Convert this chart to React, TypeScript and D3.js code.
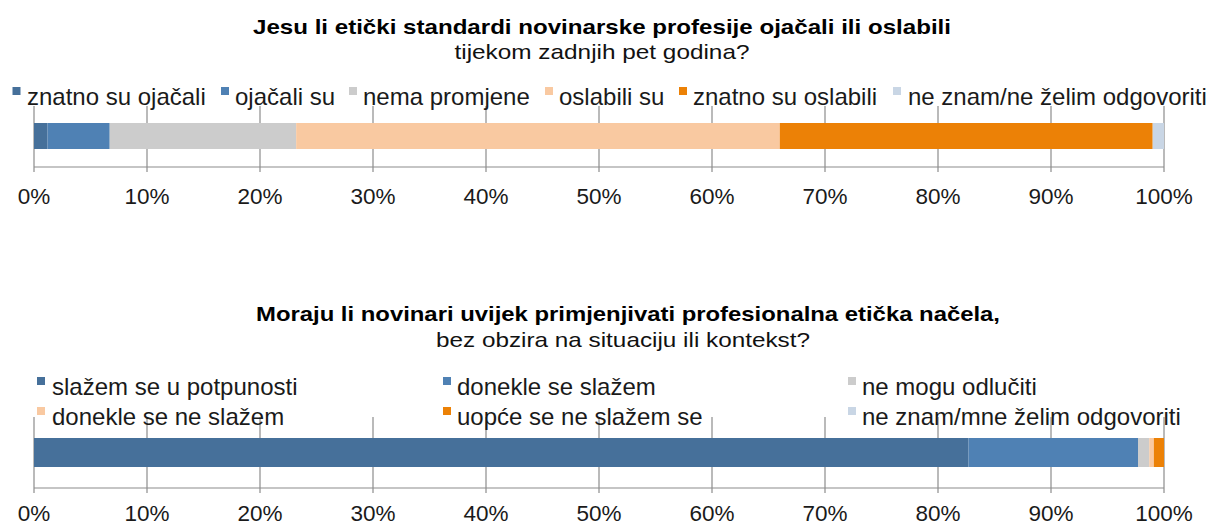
import React from "react";
import * as d3 from "d3";

const W = 1211;
const H = 527;

const ticks = [0, 10, 20, 30, 40, 50, 60, 70, 80, 90, 100];
const tickLabels = ticks.map((t) => `${t}%`);

const colors = ["#46709a", "#4f81b4", "#cccccc", "#f9c9a1", "#ec8106", "#c9d6e5"];

const cats1 = [
  "znatno su ojačali",
  "ojačali su",
  "nema promjene",
  "oslabili su",
  "znatno su oslabili",
  "ne znam/ne želim odgovoriti",
];
const vals1 = [1.2, 5.5, 16.5, 42.8, 33.0, 1.0];

const cats2 = [
  "slažem se u potpunosti",
  "donekle se slažem",
  "ne mogu odlučiti",
  "donekle se ne slažem",
  "uopće se ne slažem se",
  "ne znam/mne želim odgovoriti",
];
const vals2 = [82.7, 15.0, 1.0, 0.4, 0.9, 0.0];

const title1 = "Jesu li etički standardi novinarske profesije ojačali ili oslabili";
const sub1 = "tijekom zadnjih pet godina?";
const title2 = "Moraju li novinari uvijek primjenjivati profesionalna etička načela,";
const sub2 = "bez obzira na situaciju ili kontekst?";

const FONT = "'Liberation Sans', Arial, Helvetica, sans-serif";
const NARROW = "'Liberation Sans Narrow', 'Arial Narrow', 'Liberation Sans', sans-serif";

const x = d3.scaleLinear().domain([0, 100]).range([34, 1164]);

function stack(vals: number[]) {
  let acc = 0;
  return vals.map((v) => {
    const s = acc;
    acc += v;
    return { x0: s, x1: acc };
  });
}

type PanelProps = {
  vals: number[];
  barY: number;
  barH: number;
  gridTop: number;
  axisY: number;
  labelY: number;
};

function Panel({ vals, barY, barH, gridTop, axisY, labelY }: PanelProps) {
  const segs = stack(vals);
  return (
    <g>
      {ticks.map((t) => (
        <line
          key={t}
          x1={x(t)}
          x2={x(t)}
          y1={gridTop}
          y2={axisY + 5}
          stroke="#8c8c8c"
          strokeWidth={1.2}
        />
      ))}
      <line x1={x(0)} x2={x(100)} y1={axisY} y2={axisY} stroke="#8c8c8c" strokeWidth={1.2} />
      {segs.map((s, i) =>
        vals[i] > 0 ? (
          <rect
            key={i}
            x={x(s.x0)}
            y={barY}
            width={x(s.x1) - x(s.x0)}
            height={barH}
            fill={colors[i]}
          />
        ) : null
      )}
      {ticks.map((t, i) => (
        <text
          key={t}
          x={x(t)}
          y={labelY}
          textAnchor="middle"
          fontFamily={FONT}
          fontSize={22.5}
          fill="#1a1a1a"
        >
          {tickLabels[i]}
        </text>
      ))}
    </g>
  );
}

function Legend({ items, pos }: { items: string[]; pos: { sx: number; sy: number; tx: number; ty: number }[] }) {
  return (
    <g>
      {items.map((c, i) => (
        <g key={c}>
          <text x={pos[i].tx} y={pos[i].ty} fontFamily={FONT} fontSize={24} fill="#1a1a1a">
            {c}
          </text>
          <rect x={pos[i].sx} y={pos[i].sy} width={8} height={8} fill={colors[i]} />
        </g>
      ))}
    </g>
  );
}

export default function App() {
  const leg1Pos = [
    { sx: 12.5, sy: 87, tx: 27, ty: 105 },
    { sx: 221, sy: 87, tx: 235, ty: 105 },
    { sx: 349, sy: 87, tx: 363, ty: 105 },
    { sx: 545, sy: 87, tx: 559, ty: 105 },
    { sx: 679, sy: 87, tx: 693, ty: 105 },
    { sx: 893, sy: 87, tx: 908, ty: 105 },
  ];
  const leg2Pos = [
    { sx: 37, sy: 377, tx: 52, ty: 395 },
    { sx: 443, sy: 377, tx: 457, ty: 395 },
    { sx: 848, sy: 377, tx: 862, ty: 395 },
    { sx: 37, sy: 407, tx: 52, ty: 425 },
    { sx: 443, sy: 407, tx: 457, ty: 425 },
    { sx: 848, sy: 407, tx: 862, ty: 425 },
  ];
  return (
    <svg
      width={W}
      height={H}
      style={{ position: "absolute", left: 0, top: 0, background: "#fff" }}
    >
      <rect x={0} y={0} width={W} height={H} fill="#fff" />
      <text
        x={602}
        y={34}
        textAnchor="middle"
        fontFamily={NARROW}
        fontWeight="bold"
        fontSize={21}
        textLength={698}
        lengthAdjust="spacingAndGlyphs"
        fill="#000"
      >
        {title1}
      </text>
      <text
        x={602}
        y={59}
        textAnchor="middle"
        fontFamily={NARROW}
        fontSize={21}
        textLength={295}
        lengthAdjust="spacingAndGlyphs"
        fill="#111"
      >
        {sub1}
      </text>

      <Panel vals={vals1} barY={123} barH={26} gridTop={106} axisY={167} labelY={204} />
      <Legend items={cats1} pos={leg1Pos} />

      <text
        x={628}
        y={321}
        textAnchor="middle"
        fontFamily={NARROW}
        fontWeight="bold"
        fontSize={21}
        textLength={744}
        lengthAdjust="spacingAndGlyphs"
        fill="#000"
      >
        {title2}
      </text>
      <text
        x={623}
        y={347}
        textAnchor="middle"
        fontFamily={NARROW}
        fontSize={21}
        textLength={374}
        lengthAdjust="spacingAndGlyphs"
        fill="#111"
      >
        {sub2}
      </text>

      <Panel vals={vals2} barY={438} barH={29} gridTop={417} axisY={488} labelY={521} />
      <Legend items={cats2} pos={leg2Pos} />
    </svg>
  );
}
